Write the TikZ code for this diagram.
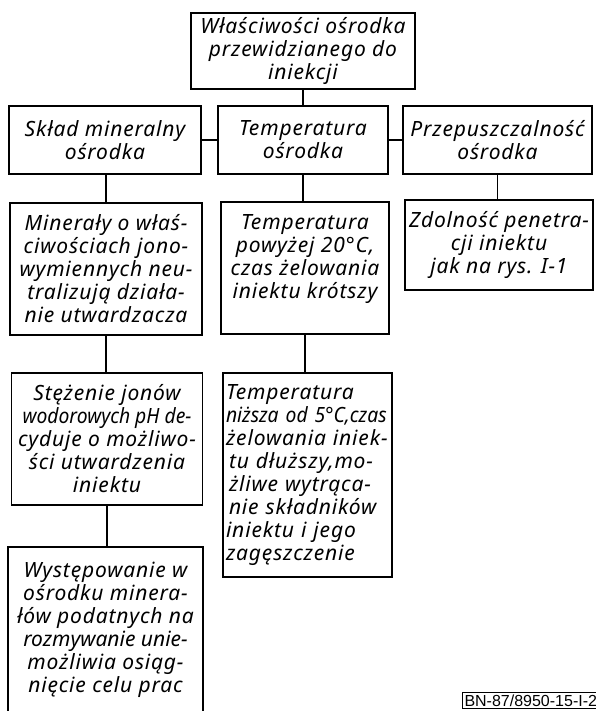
\documentclass[tikz,border=0pt]{standalone}
\usepackage{fontspec}
\newfontfamily\lett{Noto Sans}[LetterSpace=4]
\newfontfamily\lettz{Noto Sans}[LetterSpace=0]
\newfontfamily\lettn{Noto Sans}[LetterSpace=0, FakeStretch=0.92]
\newfontfamily\codefont{Liberation Sans}
\newcommand{\tightline}[1]{{\lettn\itshape #1}}
\newcommand{\plainline}[1]{{\lettz\itshape #1}}
\begin{document}
\begin{tikzpicture}[x=1pt,y=-1pt,
  box/.style={draw, line width=1.5pt, inner sep=2pt, align=center,
    font=\lett\itshape\fontsize{21}{23}\selectfont},
  link/.style={line width=1.5pt},
  tag/.style={draw, line width=1pt, inner sep=2pt, anchor=north west,
    font=\codefont\fontsize{16}{18}\selectfont}]
\useasboundingbox (0,0) rectangle (596,711);
\clip (0,0) rectangle (596,711);
% top
\node[box, minimum width=224pt, minimum height=76pt] (top) at (303,51)
  {Właściwości ośrodka\\przewidzianego do\\iniekcji};
% second row
\node[box, minimum width=192pt, minimum height=68pt] (sklad) at (105,140)
  {Skład mineralny\\ośrodka};
\node[box, minimum width=170pt, minimum height=68pt] (temp) at (303,140)
  {Temperatura\\ośrodka};
\node[box, minimum width=189pt, minimum height=68pt] (przep) at (497.5,140)
  {Przepuszczalność\\ośrodka};
% left column
\node[box, minimum width=192pt, minimum height=132pt] (min) at (106,269)
  {Minerały o właś-\\ciwościach jono-\\wymiennych neu-\\tralizują działa-\\nie utwardzacza};
\node[box, minimum width=191pt, minimum height=132pt] (stez) at (107,439)
  {Stężenie jonów\\\tightline{wodorowych pH de-}\\cyduje o możliwo-\\ści utwardzenia\\iniektu};
\node[box, minimum width=195pt, minimum height=166pt] (wyst) at (105.5,630)
  {Występowanie w\\ośrodku minera-\\łów podatnych na\\\plainline{rozmywanie unie-}\\możliwia osiąg-\\nięcie celu prac};
% middle column
\node[box, minimum width=168pt, minimum height=132pt] (tempA) at (305,268)
  {Temperatura\\powyżej 20°C,\\czas żelowania\\iniektu krótszy\\\mbox{}};
\node[box, minimum width=169pt, minimum height=204pt, align=left, text width=163pt] (tempB) at (307.5,475)
  {Temperatura\\\tightline{niższa od 5°C,czas}\\żelowania iniek-\\\hspace*{3pt}tu dłuższy,mo-\\\hspace*{3pt}żliwe wytrąca-\\\hspace*{3pt}nie składników\\iniektu i jego\\zagęszczenie};
% right column
\node[box, minimum width=188pt, minimum height=90pt] (zdol) at (499,245)
  {Zdolność penetra-\\cji iniektu\\jak na rys. I-1};
% drawing code
\node[tag] (code) at (462,692) {BN-87/8950-15-I-2};
% connectors
\draw[link] (top.south) -- (temp.north);
\draw[link] (sklad.east) -- (temp.west);
\draw[link] (temp.east) -- (przep.west);
\draw[link] (min.north) -- (min.north |- sklad.south);
\draw[link] (temp.south) -- (temp.south |- tempA.north);
\draw[link] (przep.south) -- (przep.south |- zdol.north);
\draw[link] (min.south) -- (min.south |- stez.north);
\draw[link] (tempA.south) -- (tempA.south |- tempB.north);
\draw[link] (stez.south) -- (stez.south |- wyst.north);
\end{tikzpicture}
\end{document}
